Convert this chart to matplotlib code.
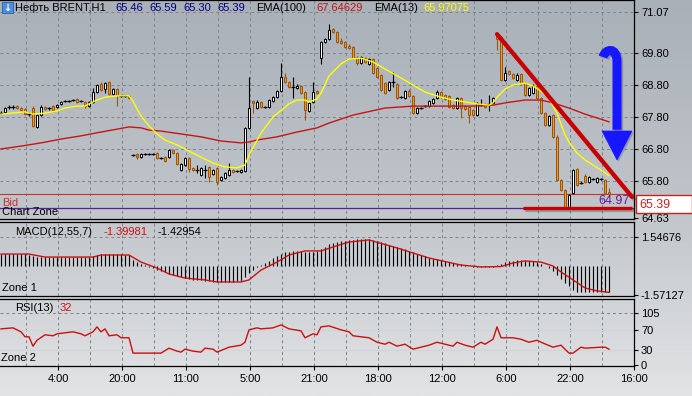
import numpy as np
import matplotlib
matplotlib.use('Agg')
import matplotlib.pyplot as plt
import matplotlib.patheffects as pe
from matplotlib.colors import LinearSegmentedColormap
from matplotlib.patches import Rectangle, Polygon, PathPatch
from matplotlib.path import Path

plt.rcParams['font.family'] = ['Liberation Sans', 'DejaVu Sans']
plt.rcParams['font.size'] = 8

# ---- BRENT H1, свечи (open / high / low / close) ----
opens = [67.93, 67.96, 68.11, 68.11, 68.14, 68.08, 68.05, 67.89, 68.08, 67.49,
         67.86, 68.11, 68.08, 68.14, 68.11, 68.21, 68.30, 68.30, 68.33, 68.36,
         68.30, 68.27, 68.14, 68.27, 68.58, 68.83, 68.67, 68.89, 68.52, 68.67,
         68.46, 68.46, 68.46, 66.61, 66.64, 66.55, 66.64, 66.64, 66.64, 66.67,
         66.52, 66.55, 66.55, 66.77, 66.67, 66.14, 66.30, 66.52, 66.21, 66.14,
         65.99, 66.14, 66.24, 66.02, 66.21, 65.83, 65.89, 65.99, 66.14, 66.11,
         66.08, 66.11, 67.46, 68.30, 68.08, 68.27, 68.11, 68.11, 68.30, 68.42,
         68.61, 69.05, 68.89, 68.74, 68.71, 68.77, 68.58, 67.99, 68.27, 68.61,
         69.64, 70.14, 70.24, 70.55, 70.46, 70.17, 70.14, 70.02, 69.99, 69.67,
         69.49, 69.64, 69.46, 69.61, 69.33, 69.11, 68.86, 68.64, 68.89, 68.83,
         68.42, 68.39, 68.61, 68.46, 67.92, 68.08, 68.14, 68.14, 68.24, 68.39,
         68.58, 68.49, 68.46, 68.17, 68.08, 68.39, 68.14, 68.11, 68.02, 67.86,
         68.17, 68.21, 68.21, 68.24, 70.33, 70.30, 68.96, 69.24, 69.14, 68.96,
         69.14, 68.86, 68.49, 68.55, 68.77, 68.39, 67.92, 67.55, 67.86, 67.18,
         65.83, 65.52, 64.99, 65.42, 66.17, 65.74, 65.96, 65.77, 65.86, 65.77,
         65.86, 65.83, 65.46]
highs = [67.99, 68.11, 68.17, 68.17, 68.17, 68.11, 68.08, 67.96, 68.14, 67.89,
         68.17, 68.14, 68.11, 68.17, 68.21, 68.30, 68.33, 68.33, 68.36, 68.39,
         68.33, 68.30, 68.30, 68.71, 68.83, 68.89, 68.89, 68.92, 68.71, 68.71,
         68.49, 68.49, 68.49, 66.64, 66.67, 66.67, 66.67, 66.67, 66.67, 66.70,
         66.55, 66.58, 66.80, 66.80, 66.70, 66.36, 66.55, 66.55, 66.24, 66.30,
         66.24, 66.30, 66.27, 66.17, 66.24, 65.96, 66.08, 66.36, 66.17, 66.14,
         66.17, 67.49, 69.05, 68.33, 68.33, 68.30, 68.14, 68.36, 68.46, 68.64,
         69.49, 69.17, 68.92, 69.05, 68.83, 68.80, 68.61, 68.27, 68.89, 68.64,
         70.17, 70.27, 70.71, 70.58, 70.49, 70.27, 70.17, 70.08, 70.02, 69.70,
         69.70, 69.67, 69.64, 69.64, 69.36, 69.14, 68.89, 68.92, 69.20, 68.86,
         68.46, 68.64, 68.67, 68.49, 68.11, 68.11, 68.17, 68.33, 68.39, 68.64,
         68.61, 68.52, 68.49, 68.21, 68.42, 68.42, 68.17, 68.14, 68.05, 68.27,
         68.36, 68.24, 68.49, 68.42, 70.40, 70.33, 69.36, 69.27, 69.17, 69.17,
         69.17, 68.89, 68.74, 68.83, 68.80, 68.42, 67.96, 67.86, 67.89, 67.24,
         65.86, 65.55, 65.39, 66.17, 66.21, 65.80, 66.02, 65.96, 65.89, 65.92,
         65.89, 65.86, 65.59]
lows = [67.89, 67.92, 68.05, 68.05, 68.05, 67.99, 67.86, 67.83, 67.49, 67.46,
        67.83, 68.02, 68.02, 67.99, 68.08, 68.17, 68.27, 68.27, 68.30, 68.24,
        68.27, 68.08, 68.11, 68.24, 68.55, 68.61, 68.55, 68.49, 68.49, 68.14,
        68.42, 68.42, 68.36, 66.58, 66.49, 66.52, 66.61, 66.61, 66.61, 66.49,
        66.49, 66.39, 66.52, 66.64, 66.30, 66.11, 66.27, 66.08, 66.11, 66.05,
        65.96, 65.89, 65.77, 65.99, 65.67, 65.80, 65.86, 65.96, 66.05, 66.08,
        66.05, 66.08, 67.42, 67.92, 68.05, 68.08, 68.08, 68.08, 68.27, 68.39,
        68.58, 68.86, 68.71, 68.39, 68.67, 68.52, 67.71, 67.96, 68.24, 68.52,
        69.46, 70.11, 70.21, 70.43, 70.11, 70.08, 69.96, 69.92, 69.61, 69.42,
        69.46, 69.49, 69.42, 69.14, 69.02, 68.61, 68.52, 68.61, 68.74, 68.36,
        68.39, 68.36, 68.42, 67.89, 67.89, 68.05, 68.11, 68.11, 68.21, 68.36,
        68.39, 68.33, 68.08, 68.05, 68.05, 67.77, 68.02, 67.61, 67.83, 67.83,
        68.14, 68.08, 67.99, 68.21, 69.89, 68.92, 68.92, 69.11, 68.99, 68.92,
        68.83, 68.46, 68.46, 68.52, 68.36, 67.89, 67.52, 67.52, 67.14, 65.80,
        65.49, 64.96, 64.96, 65.39, 65.64, 65.70, 65.74, 65.74, 65.83, 65.74,
        65.83, 65.39, 65.30]
closes = [67.93, 68.08, 68.11, 68.11, 68.08, 68.02, 67.89, 67.89, 67.52, 67.86,
          68.11, 68.05, 68.08, 68.02, 68.17, 68.27, 68.30, 68.30, 68.33, 68.27,
          68.30, 68.14, 68.27, 68.58, 68.80, 68.64, 68.86, 68.52, 68.67, 68.49,
          68.46, 68.46, 68.39, 66.61, 66.55, 66.64, 66.64, 66.64, 66.64, 66.52,
          66.52, 66.42, 66.77, 66.67, 66.33, 66.33, 66.52, 66.17, 66.14, 66.14,
          66.21, 66.14, 65.92, 66.14, 65.77, 65.92, 66.05, 66.14, 66.08, 66.11,
          66.14, 67.46, 68.08, 68.24, 68.27, 68.11, 68.11, 68.33, 68.42, 68.61,
          69.05, 68.89, 68.74, 68.74, 68.77, 68.55, 68.02, 68.24, 68.58, 68.55,
          70.14, 70.24, 70.52, 70.46, 70.14, 70.11, 69.99, 69.96, 69.64, 69.49,
          69.67, 69.52, 69.61, 69.17, 69.05, 68.64, 68.55, 68.89, 68.89, 68.39,
          68.42, 68.61, 68.46, 67.92, 68.08, 68.08, 68.14, 68.30, 68.36, 68.58,
          68.42, 68.36, 68.11, 68.08, 68.39, 68.08, 68.05, 67.86, 67.86, 68.24,
          68.17, 68.11, 68.21, 68.39, 70.24, 68.96, 69.17, 69.14, 69.02, 69.11,
          68.86, 68.49, 68.71, 68.77, 68.39, 67.92, 67.55, 67.83, 67.18, 65.83,
          65.52, 64.99, 65.36, 66.14, 65.67, 65.74, 65.77, 65.92, 65.86, 65.89,
          65.86, 65.42, 65.39]

# EMA(13) и EMA(100)
ema13_idx = [0, 6, 8, 11, 14, 16, 19, 21, 22, 24, 26, 29, 32, 33, 34, 35, 37, 39, 41, 44,
             48, 53, 56, 59, 61, 62, 65, 68, 72, 74, 76, 77, 79, 80, 82, 85, 87, 90, 93, 96,
             100, 103, 106, 110, 113, 116, 119, 122, 123, 124, 126, 128, 131, 133, 135, 137,
             139, 140, 141, 142, 144, 146, 148, 150, 152]
ema13_val = [67.89, 67.96, 67.89, 67.92, 67.99, 68.08, 68.14, 68.14, 68.21, 68.33,
             68.42, 68.46, 68.46, 68.30, 68.05, 67.83, 67.52, 67.27, 67.08, 66.93,
             66.67, 66.36, 66.24, 66.21, 66.30, 66.61, 67.30, 67.80, 68.21, 68.33,
             68.33, 68.27, 68.36, 68.55, 69.08, 69.46, 69.61, 69.64, 69.52, 69.30,
             69.02, 68.80, 68.58, 68.42, 68.33, 68.27, 68.21, 68.17, 68.24, 68.42,
             68.67, 68.80, 68.86, 68.77, 68.61, 68.39, 67.92, 67.58, 67.24, 67.02,
             66.67, 66.46, 66.30, 66.14, 65.97]
ema100_idx = [0, 5, 10, 15, 20, 25, 29, 32, 35, 37, 40, 45, 50, 55, 60, 62, 64, 69, 74, 79,
              82, 88, 96, 103, 113, 118, 123, 126, 131, 135, 138, 142, 146, 152]
ema100_val = [66.80, 66.89, 66.99, 67.11, 67.21, 67.33, 67.42, 67.49, 67.46, 67.39,
              67.36, 67.27, 67.18, 67.05, 66.99, 67.02, 67.08, 67.18, 67.33, 67.46,
              67.61, 67.86, 68.08, 68.14, 68.14, 68.14, 68.17, 68.24, 68.33, 68.33,
              68.24, 68.08, 67.89, 67.65]

# MACD(12,55,7): гистограмма по каждому бару и сигнальная линия
macd_hist = [0.62, 0.62, 0.63, 0.63, 0.62, 0.62, 0.61, 0.60,
             0.52, 0.47, 0.46,
             0.47, 0.47, 0.46, 0.47, 0.48, 0.48, 0.48, 0.49, 0.48, 0.48, 0.47, 0.48,
             0.55, 0.60, 0.63, 0.65, 0.64, 0.64, 0.62, 0.61, 0.60, 0.59,
             0.30, 0.18, 0.10, 0.04, -0.05, -0.12, -0.20, -0.28,
             -0.36, -0.42, -0.48, -0.55, -0.62, -0.66, -0.70, -0.74, -0.76, -0.78,
             -0.80, -0.83, -0.85, -0.88, -0.88, -0.88, -0.86, -0.85, -0.83, -0.80,
             -0.62, -0.40, -0.22, -0.08, 0.05, 0.15, 0.28, 0.40, 0.50, 0.65,
             0.72, 0.76, 0.78, 0.80, 0.80, 0.76, 0.74, 0.76, 0.78,
             0.90, 1.02, 1.15, 1.22, 1.28, 1.32, 1.36, 1.38, 1.40, 1.42,
             1.45, 1.44, 1.43, 1.40, 1.35, 1.28, 1.20, 1.14, 1.08, 1.00,
             0.94, 0.88, 0.82, 0.72, 0.64, 0.56, 0.50, 0.44, 0.38, 0.34,
             0.30, 0.26, 0.20, 0.15, 0.12, 0.08, 0.04, -0.02, -0.06, -0.06,
             -0.06, -0.07, -0.06, -0.04,
             0.06, 0.12, 0.18, 0.24, 0.28, 0.30, 0.30, 0.28, 0.26, 0.24, 0.18, 0.10, 0.00,
             -0.10, -0.30, -0.50, -0.70, -0.90, -1.10, -1.30, -1.40,
             -1.42, -1.42, -1.42, -1.42, -1.42, -1.42, -1.41, -1.40]
sig_idx = [0, 7, 11, 23, 25, 32, 35, 39, 42, 46, 51, 54, 60, 62, 65, 69, 72, 76, 80, 83,
           87, 92, 99, 107, 115, 120, 125, 128, 131, 135, 138, 140, 143, 146, 149, 152]
sig_val = [0.63, 0.63, 0.47, 0.47, 0.58, 0.58, 0.20, -0.12, -0.44, -0.66,
           -0.76, -0.87, -0.87, -0.76, -0.23, 0.20, 0.58, 0.80, 0.80, 1.01,
           1.28, 1.39, 0.96, 0.42, 0.04, -0.06, -0.04, 0.15, 0.26, 0.20,
           -0.01, -0.33, -0.76, -1.19, -1.35, -1.43]

# RSI(13)
rsi_idx = [0, 3, 5, 6, 7, 8, 9, 11, 13, 14, 18, 20, 21, 23, 24, 25, 26, 27, 29, 30,
           32, 33, 40, 42, 44, 45, 46, 48, 50, 51, 53, 54, 57, 60, 61, 62, 64, 65, 68, 70,
           72, 75, 76, 78, 79, 80, 82, 85, 87, 88, 90, 92, 94, 96, 97, 99, 101, 103, 105, 107,
           109, 111, 113, 114, 116, 118, 120, 121, 123, 124, 125, 128, 130, 132, 134, 135,
           138, 140, 142, 143, 145, 146, 150, 151, 152]
rsi_val = [73, 75, 67, 57, 57, 38, 50, 61, 59, 63, 67, 63, 59, 67, 77, 67, 73, 59, 61, 55,
           55, 24, 24, 34, 28, 26, 32, 28, 26, 34, 32, 26, 36, 40, 46, 71, 75, 73, 75, 81,
           73, 69, 55, 63, 61, 77, 79, 71, 67, 59, 57, 55, 46, 42, 46, 38, 42, 32, 36, 40,
           46, 42, 38, 46, 40, 36, 46, 42, 52, 77, 55, 55, 52, 46, 50, 46,
           36, 40, 24, 24, 36, 34, 36, 36, 32]

time_labels = ['4:00', '20:00', '11:00', '5:00', '21:00', '18:00', '12:00', '6:00', '22:00', '16:00']
price_ticks = [71.07, 69.80, 68.80, 67.80, 66.80, 65.80, 64.63]
bid_price = 65.39
zone_price = 64.97

# ---------------------------------------------------------------
W, H = 692, 396
fig = plt.figure(figsize=(W / 100, H / 100), dpi=100)

def ftext(x, y, s, **kw):
    fig.text(x / W, 1 - y / H, s, va='baseline', **kw)

# фон с градиентом
bg = fig.add_axes([0, 0, 1, 1], zorder=-5)
cmap = LinearSegmentedColormap.from_list('bg', ['#a9b0b8', '#bfc4c9', '#e2e3e5'])
bg.imshow(np.linspace(0, 1, 256).reshape(-1, 1), aspect='auto', cmap=cmap,
          extent=[0, 1, 0, 1], origin='upper')
bg.axis('off')

grid_x = np.arange(6.25, 158, 8)
grid_kw = dict(color='#7b848e', lw=0.7, ls=(0, (3, 3)), zorder=1)

def make_panel(top, bottom):
    ax = fig.add_axes([0, 1 - bottom / H, 634 / W, (bottom - top) / H])
    ax.set_facecolor('none')
    ax.spines['left'].set_visible(False)
    for s in ('top', 'bottom', 'right'):
        ax.spines[s].set_linewidth(0.9)
        ax.spines[s].set_color('black')
    ax.set_xlim(-0.25, 158.25)
    ax.yaxis.tick_right()
    ax.tick_params(axis='y', direction='out', length=3, width=0.8, pad=2, labelsize=8)
    ax.tick_params(axis='x', bottom=False, labelbottom=False)
    for gx in grid_x:
        ax.axvline(gx, **grid_kw)
    return ax

ax1 = make_panel(0, 219)
ax2 = make_panel(222, 296)
ax3 = make_panel(299, 366)

# ---- основной график ----
ax1.set_ylim(64.612, 71.456)
ax1.set_yticks(price_ticks, ['%.2f' % p for p in price_ticks])
for p in price_ticks[:-1]:
    ax1.axhline(p, **grid_kw)

idx = np.arange(len(opens))
o, h, l, c = map(np.array, (opens, highs, lows, closes))
up, down, flat = c > o, c < o, c == o
body_orange, edge_brown = '#eb9a1e', '#9c5410'
ax1.vlines(idx, l, h, colors=np.where(down, edge_brown, 'black'), lw=0.8, zorder=3)
ax1.bar(idx[up], (c - o)[up], bottom=o[up], width=0.55, color='white',
        edgecolor='black', lw=0.7, zorder=4)
ax1.bar(idx[down], (o - c)[down], bottom=c[down], width=0.55, color=body_orange,
        edgecolor=edge_brown, lw=0.7, zorder=4)
ax1.hlines(c[flat], idx[flat] - 0.45, idx[flat] + 0.45, colors='black', lw=0.9, zorder=4)

ax1.plot(ema100_idx, ema100_val, color='#c81414', lw=1.0, zorder=5)
ax1.plot(ema13_idx, ema13_val, color='#ffff00', lw=1.0, zorder=5)

ax1.axhline(bid_price, color='#c83232', lw=0.8, zorder=2)
ax1.axhline(zone_price, color='#5c1f9c', lw=0.9, zorder=2)

# ручные построения: трендовая линия, уровень, стрелка
shadow = [pe.SimpleLineShadow(offset=(1.5, -1.5), shadow_color='#333333', alpha=0.3), pe.Normal()]
trend_x, trend_y = [124.0, 157.75], [70.39, 65.30]
level_x, level_y = [130.5, 157.75], [64.96, 64.96]
ax1.plot(trend_x, trend_y, color='#cc0000', lw=3.0, solid_capstyle='round',
         zorder=7, clip_on=False, path_effects=shadow)
ax1.plot(level_x, level_y, color='#cc0000', lw=2.4, solid_capstyle='butt',
         zorder=7, clip_on=False, path_effects=shadow)

blue = '#1717ff'
blue_shadow = '#20205a'
hook = Path([(150.5, 69.675), (151.0, 69.925), (154.0, 70.018), (154.0, 69.518), (154.0, 67.40)],
            [Path.MOVETO, Path.CURVE4, Path.CURVE4, Path.CURVE4, Path.LINETO])
ax1.add_patch(PathPatch(hook, fill=False, ec=blue, lw=6.5, capstyle='butt', zorder=8,
                        path_effects=[pe.SimpleLineShadow(offset=(1.2, -1.2), shadow_color=blue_shadow,
                                                          alpha=0.25), pe.Normal()]))
ax1.add_patch(Polygon([(150.25, 67.362), (157.75, 67.362), (154.0, 66.456)], closed=True,
                      fc=blue, ec=blue, lw=0.5, zorder=8,
                      path_effects=[pe.SimplePatchShadow(offset=(1.2, -1.2), shadow_rgbFace=blue_shadow,
                                                         alpha=0.25), pe.Normal()]))

# ---- MACD ----
ax2.set_ylim(-1.624, 2.355)
ax2.set_yticks([1.54676, -1.57127], ['1.54676', '-1.57127'])
ax2.axhline(1.54676, **grid_kw)
ax2.vlines(idx, 0, macd_hist, colors='black', lw=0.8, zorder=3)
ax2.plot(sig_idx, sig_val, color='#cc1010', lw=1.0, zorder=4)

# ---- RSI ----
ax3.set_ylim(-2.02, 133.3)
ax3.set_yticks([105, 70, 30, 0], ['105', '70', '30', '0'])
ax3.axhline(105, **grid_kw)
for lv in (70, 30):
    ax3.axhline(lv, color='#d0d3d7', lw=0.8, zorder=1)
ax3.plot(rsi_idx, rsi_val, color='#cc1010', lw=1.0, zorder=4)
ax3.set_xticks(14.25 + 16 * np.arange(len(time_labels)), time_labels)
ax3.tick_params(axis='x', bottom=True, labelbottom=True, direction='out',
                length=3, width=0.8, pad=3, labelsize=8)

# ---- подписи ----
icon = Rectangle((2 / W, 1 - 13 / H), 11 / W, 11 / H, transform=fig.transFigure,
                 fc='#4a8ee0', ec='#2b5fa8', lw=0.6)
fig.add_artist(icon)
fig.text(7.5 / W, 1 - 7.5 / H, '↓', color='white', fontsize=7, fontweight='bold',
         ha='center', va='center', family='DejaVu Sans')
ftext(15, 11, 'Нефть BRENT,H1')
for x, s in zip([115, 149, 183, 217], ['65.46', '65.59', '65.30', '65.39']):
    ftext(x, 11, s, color='#000080')
ftext(256, 11, 'EMA(100)')
ftext(316, 11, '67.64629', color='#c81414')
ftext(374, 11, 'EMA(13)')
ftext(423, 11, '65.97075', color='#ffff00')

ftext(2, 206, 'Bid', color='#c83232')
ftext(2, 215, 'Chart Zone')
ftext(630, 204, '64.97', color='#5c1f9c', ha='right', fontsize=9)

box = Rectangle((636 / W, 1 - 213 / H), 56 / W, 18 / H, transform=fig.transFigure,
                fc='white', ec='#cc2020', lw=1.0)
fig.add_artist(box)
ftext(639, 208, '65.39', color='#cc2020', fontsize=9)

ftext(15, 235, 'MACD(12,55,7)')
ftext(104, 235, '-1.39981', color='#cc1010')
ftext(157, 235, '-1.42954')
ftext(2, 291, 'Zone 1')

ftext(15, 311, 'RSI(13)')
ftext(60, 311, '32', color='#cc1010')
ftext(1, 361, 'Zone 2')

fig.savefig('out.png', dpi=100)
